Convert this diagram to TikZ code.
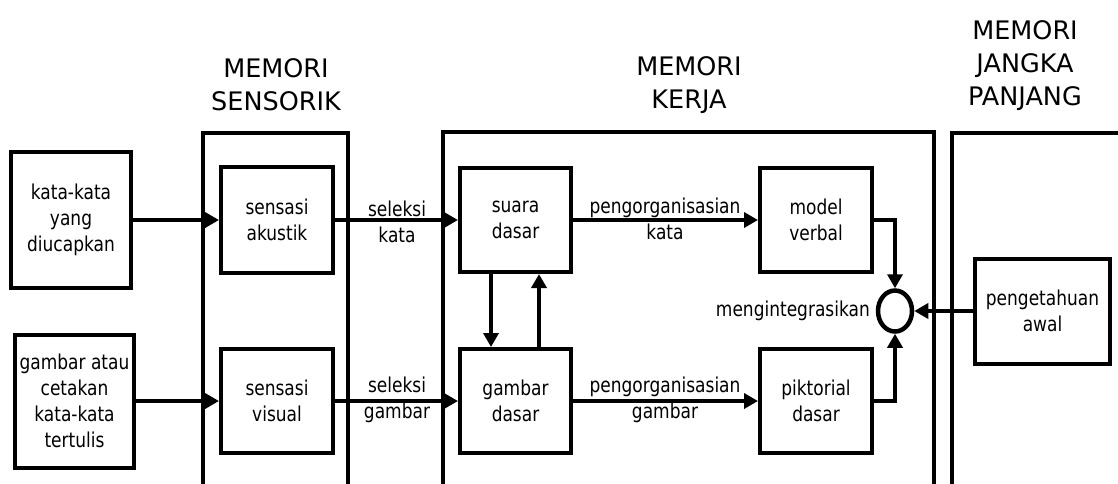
\documentclass[tikz,border=0pt]{standalone}
\usepackage{fontspec}
\setmainfont{DejaVu Sans}
\newfontfamily\bodyfont[FakeStretch=0.83]{DejaVu Sans}
\usetikzlibrary{arrows.meta,shapes.geometric}
\begin{document}
\begin{tikzpicture}[x=1pt,y=-1pt,
  box/.style={draw,line width=4pt,inner sep=0pt,align=center,
    font=\bodyfont\fontsize{20.5}{26}\selectfont},
  lbl/.style={inner sep=0pt,align=center,font=\bodyfont\fontsize{20.5}{26}\selectfont},
  head/.style={inner sep=0pt,align=center,font=\fontsize{25.5}{33}\selectfont},
  region/.style={line width=3.5pt},
  arr/.style={line width=4pt,-{Triangle[length=14pt,width=15pt]}}]
\useasboundingbox (0,0) rectangle (1118,483);

% section frames (open at the bottom)
\draw[region] (203,490) -- (203,133) -- (348,133) -- (348,490);
\draw[region] (443,490) -- (443,132) -- (934,132) -- (934,490);
\draw[region] (952,490) -- (952,133) -- (1125,133);

% section titles
\node[head] (hsens) at (276,85) {MEMORI\\SENSORIK};
\node[head] (hkerja) at (689,85) {MEMORI\\KERJA};
\node[head] (hpanjang) at (1025,66) {MEMORI\\JANGKA\\PANJANG};

% inputs
\node[box,minimum width=120,minimum height=136] (kata) at (71,220) {kata-kata\\yang\\diucapkan};
\node[box,minimum width=119,minimum height=133] (cetak) at (74.5,401) {gambar atau\\cetakan\\kata-kata\\tertulis};

% sensory memory
\node[box,minimum width=112,minimum height=106] (akustik) at (277,220) {sensasi\\akustik};
\node[box,minimum width=112,minimum height=104] (visual) at (277,401) {sensasi\\visual};

% working memory
\node[box,minimum width=111,minimum height=104] (suara) at (515.5,220) {suara\\dasar};
\node[box,minimum width=111,minimum height=104] (gdasar) at (515.5,401) {gambar\\dasar};
\node[box,minimum width=112,minimum height=104] (model) at (816,220) {model\\verbal};
\node[box,minimum width=112,minimum height=104] (pikt) at (816,401) {piktorial\\dasar};
\node[ellipse,draw,line width=4.5pt,minimum width=34,minimum height=41,inner sep=0pt] (int) at (895,311) {};
\node[lbl,anchor=east] (tint) at (870,311) {mengintegrasikan};

% long-term memory
\node[box,minimum width=135,minimum height=105] (awal) at (1042.5,311) {pengetahuan\\awal};

% connectors
\draw[arr] (kata.east) -- (akustik.west);
\draw[arr] (cetak.east) -- (visual.west);
\draw[arr] (akustik.east) -- (suara.west);
\draw[arr] (visual.east) -- (gdasar.west);
\draw[arr] (suara.east) -- (model.west);
\draw[arr] (gdasar.east) -- (pikt.west);
\draw[arr] ([xshift=-24.5]suara.south) -- ([xshift=-24.5]gdasar.north);
\draw[arr] ([xshift=23.5]gdasar.north) -- ([xshift=23.5]suara.south);
\draw[arr] (model.east) -| (int.north);
\draw[arr] (pikt.east) -| (int.south);
\draw[arr] (awal.west) -- (int.east);

% connector labels
\node[lbl] (lsk) at (397,222) {seleksi\\kata};
\node[lbl] (lsg) at (397,400) {seleksi\\gambar};
\node[lbl] (lpk) at (665,219) {pengorganisasian\\kata};
\node[lbl] (lpg) at (665,400) {pengorganisasian\\gambar};
\end{tikzpicture}
\end{document}
